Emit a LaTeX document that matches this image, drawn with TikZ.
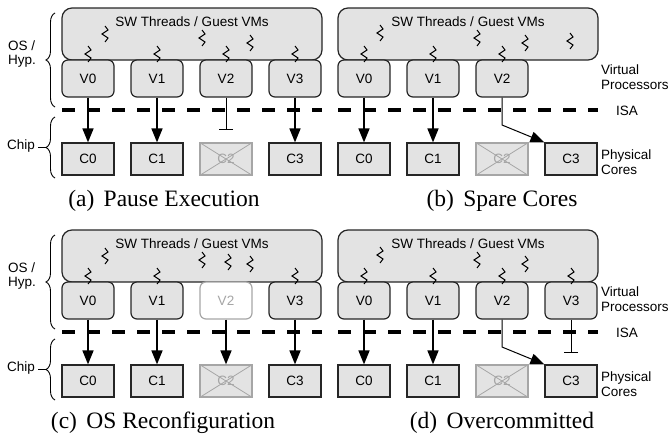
\documentclass[tikz,border=0pt]{standalone}
\usepackage{fontspec}
\setmainfont{Liberation Serif}
\setsansfont{Liberation Sans}
\usepackage{tikz}
\usetikzlibrary{arrows.meta, decorations.pathreplacing}
\usepackage{xcolor}
\colorlet{box_fill}{black!11}
\colorlet{box_line}{black!85}
\colorlet{dead_line}{black!35}

\begin{document}
\begin{tikzpicture}[
    x=1pt, y=-1pt,
    label-text/.style={font=\sffamily\fontsize{13.5}{14.5}\selectfont, inner sep=0pt},
    sw-box/.style={draw=box_line, fill=box_fill, line width=1.2pt, rounded corners=10pt, minimum width=260pt, minimum height=52pt, inner sep=0pt},
    vproc/.style={label-text, draw=box_line, fill=box_fill, line width=1.2pt, rounded corners=6pt, minimum width=52pt, minimum height=37pt},
    vproc-off/.style={vproc, draw=dead_line, fill=white, text=dead_line},
    core/.style={label-text, draw=box_line, fill=box_fill, line width=1.2pt, minimum width=52pt, minimum height=32pt},
    core-dead/.style={core, draw=dead_line, text=dead_line},
    dead-x/.style={color=dead_line, line width=0.8pt},
    isa-line/.style={line width=4pt, dash pattern=on 13pt off 12pt},
    map/.style={line width=1.6pt, -{Triangle[length=14pt, width=11pt]}},
    remap/.style={line width=1pt, -{Triangle[length=14pt, width=11pt]}},
    halt/.style={line width=1pt, -{Bar[width=14pt, line width=1pt]}},
    thread/.style={line width=1pt},
    side-label/.style={label-text, align=left, anchor=west},
    brace-line/.style={line width=0.9pt, decorate, decoration={brace, amplitude=9pt}},
    caption/.style={font=\fontsize{23.5}{26}\selectfont, anchor=base},
  ]
  \useasboundingbox (0,0) rectangle (668,439);

  %%%%%%%%%% (a) Pause Execution %%%%%%%%%%
  \begin{scope}
    \node[sw-box] (a-sw) at (192,34) {};
    \node[label-text] (a-swt) at (192,22) {SW Threads / Guest VMs};
    \foreach \i in {0,...,3} {
      \node[vproc] (a-v\i) at ({88+69*\i},78.5) {V\i};
    }
    \foreach \i in {0,1,3} {
      \node[core] (a-c\i) at ({88+69*\i},159) {C\i};
    }
    \node[core-dead] (a-c2) at (226,159) {C2};
    \draw[dead-x] (a-c2.north west) -- (a-c2.south east) (a-c2.north east) -- (a-c2.south west);
    \foreach \x/\y in {105/26, 202/30, 250/35, 88/46, 157/46, 226/46, 295/46} {
      \draw[thread] (\x,\y) -- ++(3,4) -- ++(-6,4) -- ++(6,4) -- ++(-3,4);
    }
    \draw[isa-line] (62,110) -- (322,110);
    \foreach \i in {0,1,3} {
      \draw[map] (a-v\i) -- (a-c\i);
    }
    \coordinate (a-stop2) at (226,130);
    \draw[halt] (a-v2) -- (a-stop2);
    % side labels
    \node[side-label] (a-os) at (8,54) {OS /\\Hyp.};
    \draw[brace-line] (55,107) -- (55,13);
    \node[side-label] (a-chip) at (7,146) {Chip};
    \draw[brace-line] (55,178) -- (55,117);
    \coordinate (a-chip-tip) at (46,147.5);
    \coordinate (a-chip-end) at (38,147.5);
    \draw[line width=0.9pt] (a-chip-tip) -- (a-chip-end);
    \node[caption] (a-cap) at (164,206) {(a)\hspace{0.4em}Pause Execution};
  \end{scope}

  %%%%%%%%%% (b) Spare Cores %%%%%%%%%%
  \begin{scope}[shift={(276,0)}]
    \node[sw-box] (b-sw) at (192,34) {};
    \node[label-text] (b-swt) at (192,22) {SW Threads / Guest VMs};
    \foreach \i in {0,...,2} {
      \node[vproc] (b-v\i) at ({88+69*\i},78.5) {V\i};
    }
    \foreach \i in {0,1,3} {
      \node[core] (b-c\i) at ({88+69*\i},159) {C\i};
    }
    \node[core-dead] (b-c2) at (226,159) {C2};
    \draw[dead-x] (b-c2.north west) -- (b-c2.south east) (b-c2.north east) -- (b-c2.south west);
    \foreach \x/\y in {104/25, 201/30, 249/35, 294/33, 88/46, 157/46, 226/46} {
      \draw[thread] (\x,\y) -- ++(3,4) -- ++(-6,4) -- ++(6,4) -- ++(-3,4);
    }
    \draw[isa-line] (62,110) -- (322,110);
    \foreach \i in {0,1} {
      \draw[map] (b-v\i) -- (b-c\i);
    }
    \coordinate (b-bend) at (226,125);
    \draw[remap] (b-v2.south) -- (b-bend) -- (b-c3.north west);
    % side labels
    \node[side-label] (b-vp) at (325,77) {Virtual\\Processors};
    \node[side-label] (b-isa) at (340,111) {ISA};
    \node[side-label] (b-pc) at (325,162) {Physical\\Cores};
    \node[caption] (b-cap) at (226,206) {(b)\hspace{0.4em}Spare Cores};
  \end{scope}

  %%%%%%%%%% (c) OS Reconfiguration %%%%%%%%%%
  \begin{scope}[shift={(0,222)}]
    \node[sw-box] (c-sw) at (192,34) {};
    \node[label-text] (c-swt) at (192,22) {SW Threads / Guest VMs};
    \foreach \i in {0,1,3} {
      \node[vproc] (c-v\i) at ({88+69*\i},78.5) {V\i};
      \node[core] (c-c\i) at ({88+69*\i},159) {C\i};
    }
    \node[vproc-off] (c-v2) at (226,78.5) {V2};
    \node[core-dead] (c-c2) at (226,159) {C2};
    \draw[dead-x] (c-c2.north west) -- (c-c2.south east) (c-c2.north east) -- (c-c2.south west);
    \foreach \x/\y in {105/26, 202/30, 228/32, 250/34, 88/46, 157/46, 295/46} {
      \draw[thread] (\x,\y) -- ++(3,4) -- ++(-6,4) -- ++(6,4) -- ++(-3,4);
    }
    \draw[isa-line] (62,110) -- (322,110);
    \foreach \i in {0,...,3} {
      \draw[map] (c-v\i) -- (c-c\i);
    }
    % side labels
    \node[side-label] (c-os) at (8,54) {OS /\\Hyp.};
    \draw[brace-line] (55,107) -- (55,13);
    \node[side-label] (c-chip) at (7,146) {Chip};
    \draw[brace-line] (55,178) -- (55,117);
    \coordinate (c-chip-tip) at (46,147.5);
    \coordinate (c-chip-end) at (38,147.5);
    \draw[line width=0.9pt] (c-chip-tip) -- (c-chip-end);
    \node[caption] (c-cap) at (163,206) {(c)\hspace{0.4em}OS Reconfiguration};
  \end{scope}

  %%%%%%%%%% (d) Overcommitted %%%%%%%%%%
  \begin{scope}[shift={(276,222)}]
    \node[sw-box] (d-sw) at (192,34) {};
    \node[label-text] (d-swt) at (192,22) {SW Threads / Guest VMs};
    \foreach \i in {0,...,3} {
      \node[vproc] (d-v\i) at ({88+69*\i},78.5) {V\i};
    }
    \foreach \i in {0,1,3} {
      \node[core] (d-c\i) at ({88+69*\i},159) {C\i};
    }
    \node[core-dead] (d-c2) at (226,159) {C2};
    \draw[dead-x] (d-c2.north west) -- (d-c2.south east) (d-c2.north east) -- (d-c2.south west);
    \foreach \x/\y in {104/25, 201/30, 249/34, 88/46, 157/46, 226/46, 295/46} {
      \draw[thread] (\x,\y) -- ++(3,4) -- ++(-6,4) -- ++(6,4) -- ++(-3,4);
    }
    \draw[isa-line] (62,110) -- (322,110);
    \foreach \i in {0,1} {
      \draw[map] (d-v\i) -- (d-c\i);
    }
    \coordinate (d-bend) at (226,125);
    \draw[remap] (d-v2.south) -- (d-bend) -- (d-c3.north west);
    \coordinate (d-stop3) at (295,131);
    \draw[halt] (d-v3) -- (d-stop3);
    % side labels
    \node[side-label] (d-vp) at (325,77) {Virtual\\Processors};
    \node[side-label] (d-isa) at (340,111) {ISA};
    \node[side-label] (d-pc) at (325,162) {Physical\\Cores};
    \node[caption] (d-cap) at (226,206) {(d)\hspace{0.4em}Overcommitted};
  \end{scope}

\end{tikzpicture}
\end{document}
